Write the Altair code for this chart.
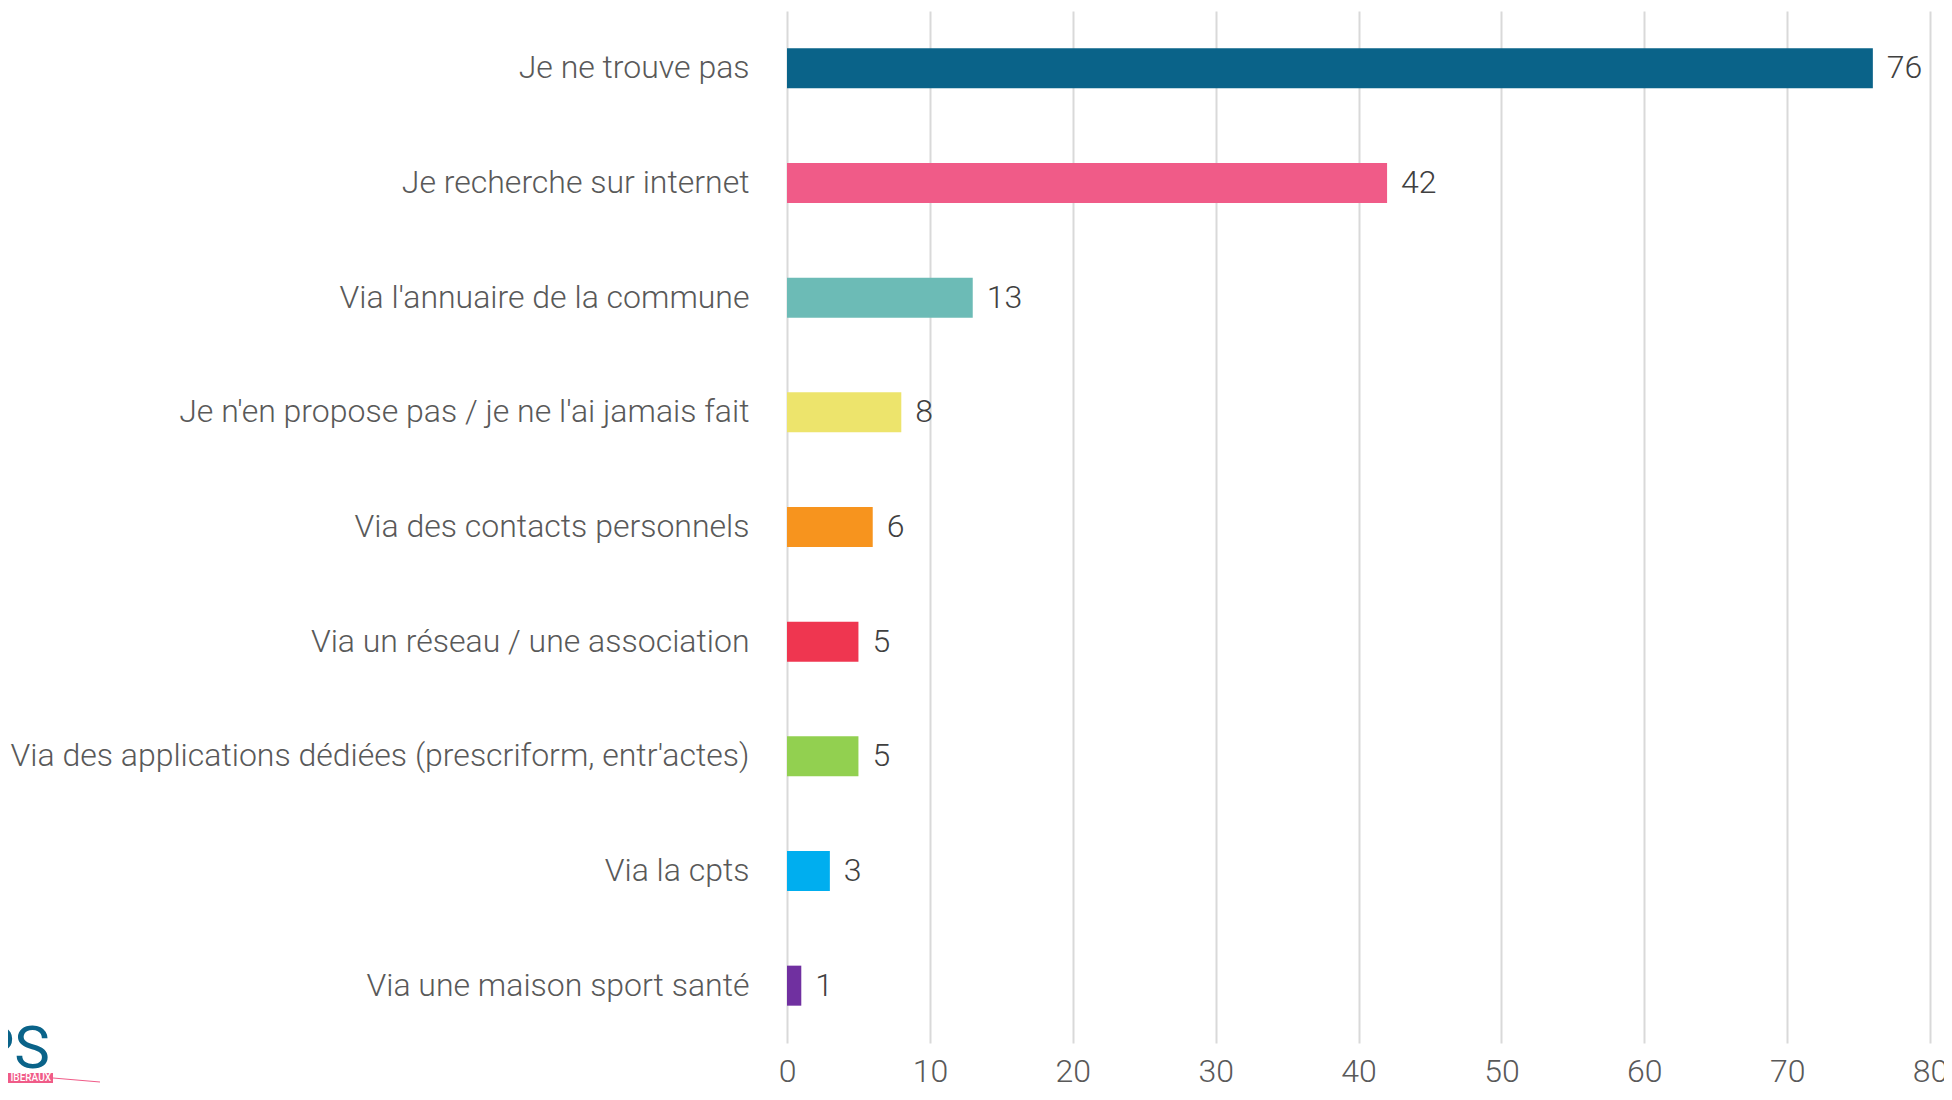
import altair as alt
import pandas as pd

categories = [
    "Je ne trouve pas\u00a0",
    "Je recherche sur internet",
    "Via l'annuaire de la commune",
    "Je n'en propose pas / je ne l'ai jamais fait",
    "Via des contacts personnels",
    "Via un réseau / une association",
    "Via des applications dédiées (prescriform, entr'actes)",
    "Via la cpts\u00a0",
    "Via une maison sport santé",
]
values = [76, 42, 13, 8, 6, 5, 5, 3, 1]
colors = ["#0a6389", "#f05b88", "#6cbbb6", "#ede46c", "#f7941e",
          "#ef3650", "#92d050", "#00aeef", "#7030a0"]
x_ticks = [0, 10, 20, 30, 40, 50, 60, 70, 80]

df = pd.DataFrame({"cat": categories, "val": values, "color": colors})
one = pd.DataFrame({"k": [0]})

FONT = "Roboto"
TXT = "#595959"
LEFT = 787  # page x of plot origin
TOP = 11

y_enc = alt.Y("cat:N", sort=categories,
              scale=alt.Scale(paddingInner=0.651, paddingOuter=0.3255),
              axis=alt.Axis(title=None, ticks=False, domain=False, grid=False,
                            labelFont=FONT, labelFontSize=32, labelFontWeight=300,
                            labelColor=TXT, labelPadding=38, labelLimit=1000))
x_enc = alt.X("val:Q", scale=alt.Scale(domain=[0, 80], nice=False),
              axis=alt.Axis(title=None, values=x_ticks, ticks=False, domain=False,
                            grid=True, gridColor="#d9d9d9", gridWidth=2,
                            labelFlush=False,
                            labelFont=FONT, labelFontSize=32, labelFontWeight=300,
                            labelColor=TXT, labelPadding=13))

bars = alt.Chart(df).mark_bar().encode(
    x=x_enc, y=y_enc,
    color=alt.Color("color:N", scale=None),
)
labels = alt.Chart(df).mark_text(align="left", baseline="middle", dx=14,
                                 font=FONT, fontSize=32, fontWeight=300,
                                 color="#404040").encode(
    x="val:Q", y=alt.Y("cat:N", sort=categories), text="val:Q")

# logo fragment (bottom-left corner)
logo_ps = alt.Chart(one).mark_text(align="right", baseline="alphabetic",
                                   font=FONT, fontSize=60, fontWeight=400,
                                   color="#0a6389").encode(
    x=alt.value(50 - LEFT), y=alt.value(1068 - TOP), text=alt.value("PS"))
logo_bar = alt.Chart(one).mark_rect(color="#f05b88").encode(
    x=alt.value(0 - LEFT - 8), x2=alt.value(53 - LEFT),
    y=alt.value(1073 - TOP), y2=alt.value(1083 - TOP))
logo_line = alt.Chart(one).mark_rule(color="#f05b88", strokeWidth=1).encode(
    x=alt.value(53 - LEFT), x2=alt.value(100 - LEFT),
    y=alt.value(1078 - TOP), y2=alt.value(1082 - TOP))
logo_txt = alt.Chart(one).mark_text(align="right", baseline="middle",
                                    font=FONT, fontSize=10, fontWeight=500,
                                    color="white").encode(
    x=alt.value(51 - LEFT), y=alt.value(1078 - TOP), text=alt.value("IBÉRAUX"))

chart = (bars + labels + logo_bar + logo_line + logo_txt + logo_ps).properties(
    width=1143, height=1032,
    autosize=alt.AutoSizeParams(type="none"),
    padding={"left": LEFT - 8, "top": TOP - 8, "right": 14, "bottom": 40},
).configure_view(stroke=None)

chart.save("out.html", embed_options={"renderer": "svg", "actions": False})
